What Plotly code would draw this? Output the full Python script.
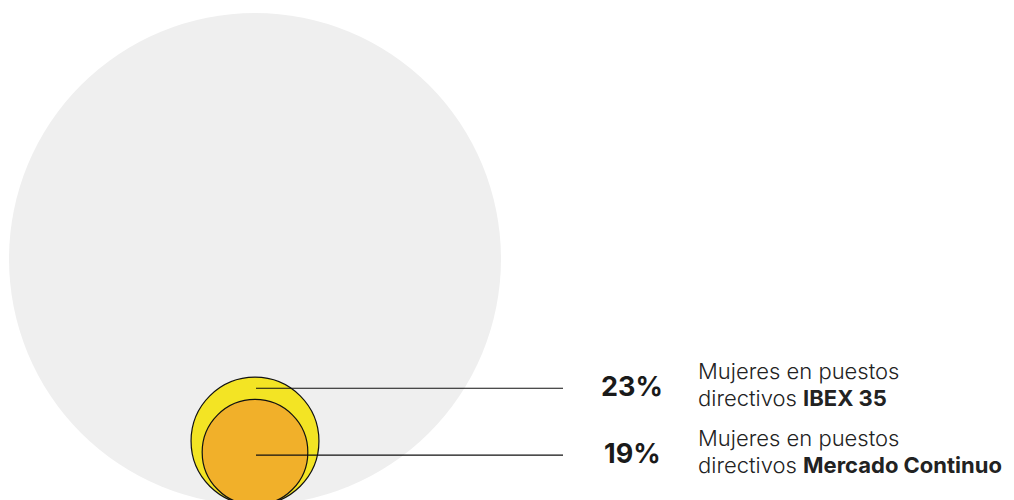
import plotly.graph_objects as go

# Data
labels_top = ["Mujeres en puestos", "Mujeres en puestos"]
labels_bold = ["IBEX 35", "Mercado Continuo"]
values = [23, 19]            # percent
colors = ["#F3E424", "#F1B02A"]

# geometry (chart units = pixels)
W, H = 1014, 500
OFF = 8                      # page body margin compensation
px_per_pct = 2.78            # radius scale for the small circles
base_y = -5                  # common bottom of circles
cx = 255
big_r = 246
big_cy = 241

fig = go.Figure()
fig.add_trace(go.Scatter(x=[0], y=[0], mode="markers", marker=dict(opacity=0), hoverinfo="skip", showlegend=False))

shapes = []
shapes.append(dict(type="circle", xref="x", yref="y",
                   x0=cx - big_r, x1=cx + big_r, y0=big_cy - big_r, y1=big_cy + big_r,
                   fillcolor="#EFEFEF", line=dict(width=0), layer="below"))
radii = [v * px_per_pct for v in values]
for r, c in zip(radii, colors):
    shapes.append(dict(type="circle", xref="x", yref="y",
                       x0=cx - r, x1=cx + r, y0=base_y, y1=base_y + 2 * r,
                       fillcolor=c, line=dict(color="#111111", width=1.2), layer="above"))

line_ys = [base_y + radii[0] + radii[1], base_y + radii[1] - 3]
line_x1 = 563
for ly in line_ys:
    shapes.append(dict(type="line", xref="x", yref="y", x0=cx + 1, x1=line_x1, y0=ly, y1=ly,
                       line=dict(color="#111111", width=1.2)))

annotations = []
for ly, v, t, b in zip(line_ys, values, labels_top, labels_bold):
    annotations.append(dict(x=632, y=ly + 2, xref="x", yref="y", text=f"<b>{v}%</b>", showarrow=False,
                            xanchor="center", yanchor="middle",
                            font=dict(family="Inter", size=27, color="#1a1a1a")))
    annotations.append(dict(x=696, y=ly + 17, xref="x", yref="y", text=t, showarrow=False,
                            xanchor="left", yanchor="middle",
                            font=dict(family="Inter", size=22, color="#222222", weight=300)))
    annotations.append(dict(x=696, y=ly - 10, xref="x", yref="y", text=f"directivos <b>{b}</b>", showarrow=False,
                            xanchor="left", yanchor="middle",
                            font=dict(family="Inter", size=22, color="#222222", weight=300)))

fig.update_layout(
    width=W, height=H,
    margin=dict(l=0, r=0, t=0, b=0),
    paper_bgcolor="white", plot_bgcolor="white",
    xaxis=dict(range=[OFF, W + OFF], visible=False, fixedrange=True),
    yaxis=dict(range=[-OFF, H - OFF], visible=False, fixedrange=True),
    shapes=shapes, annotations=annotations, showlegend=False,
)
fig.write_html("out.html")
